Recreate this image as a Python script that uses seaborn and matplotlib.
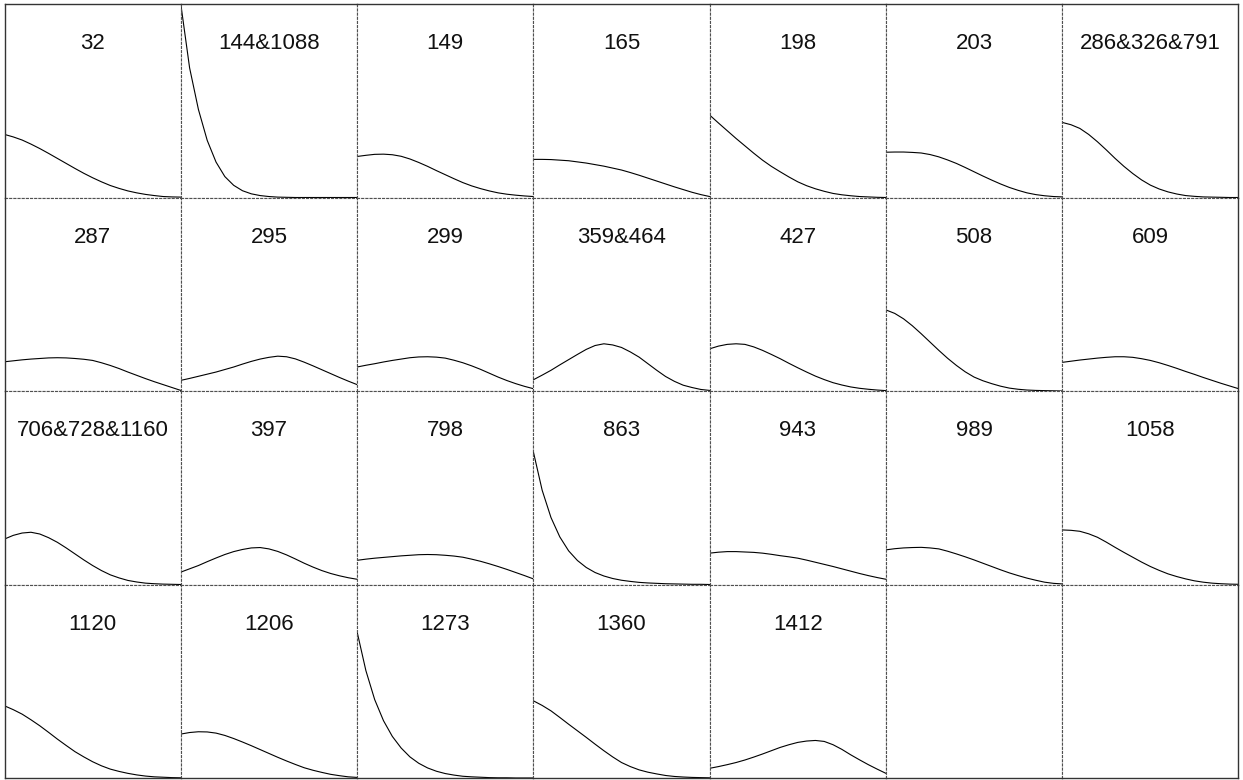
import matplotlib
matplotlib.use("Agg")
import matplotlib.pyplot as plt
import pandas as pd
import seaborn as sns

# Sample positions along each panel's horizontal axis (0 = left edge, 1 = right edge)
x_pos = [0.00, 0.05, 0.10, 0.15, 0.20, 0.25, 0.30, 0.35, 0.40, 0.45, 0.50,
         0.55, 0.60, 0.65, 0.70, 0.75, 0.80, 0.85, 0.90, 0.95, 1.00]

# Panel titles, in reading order
labels = ["32", "144&1088", "149", "165", "198", "203", "286&326&791",
          "287", "295", "299", "359&464", "427", "508", "609",
          "706&728&1160", "397", "798", "863", "943", "989", "1058",
          "1120", "1206", "1273", "1360", "1412"]

# Profile values for each panel (shared vertical scale 0..1)
y_32 = [0.326, 0.313, 0.297, 0.276, 0.253, 0.228, 0.202, 0.176, 0.150, 0.125, 0.102,
        0.081, 0.062, 0.047, 0.034, 0.024, 0.016, 0.010, 0.005, 0.003, 0.002]
y_144_1088 = [1.000, 0.670, 0.455, 0.295, 0.183, 0.108, 0.063, 0.035, 0.019, 0.010, 0.005,
              0.002, 0.001, 0.000, 0.000, 0.000, 0.000, 0.000, 0.000, 0.000, 0.000]
y_149 = [0.212, 0.218, 0.223, 0.224, 0.221, 0.213, 0.199, 0.181, 0.161, 0.139, 0.118,
         0.097, 0.077, 0.060, 0.046, 0.034, 0.024, 0.017, 0.012, 0.008, 0.005]
y_165 = [0.197, 0.197, 0.196, 0.193, 0.190, 0.184, 0.178, 0.170, 0.162, 0.152, 0.142,
         0.129, 0.115, 0.100, 0.085, 0.070, 0.055, 0.041, 0.027, 0.015, 0.005]
y_198 = [0.426, 0.385, 0.345, 0.305, 0.267, 0.229, 0.193, 0.161, 0.133, 0.106, 0.081,
         0.061, 0.045, 0.032, 0.021, 0.014, 0.009, 0.005, 0.003, 0.001, 0.000]
y_203 = [0.234, 0.235, 0.235, 0.233, 0.230, 0.222, 0.210, 0.194, 0.176, 0.155, 0.133,
         0.111, 0.090, 0.070, 0.052, 0.037, 0.024, 0.015, 0.009, 0.005, 0.003]
y_286_326_791 = [0.388, 0.376, 0.357, 0.326, 0.288, 0.246, 0.202, 0.161, 0.124, 0.091, 0.064,
                 0.044, 0.029, 0.018, 0.010, 0.006, 0.003, 0.002, 0.001, 0.000, 0.000]
y_287 = [0.151, 0.156, 0.161, 0.165, 0.168, 0.171, 0.172, 0.171, 0.168, 0.164, 0.158,
         0.146, 0.132, 0.116, 0.098, 0.081, 0.064, 0.048, 0.033, 0.018, 0.003]
y_295 = [0.055, 0.065, 0.076, 0.087, 0.098, 0.111, 0.124, 0.139, 0.153, 0.165, 0.174,
         0.180, 0.177, 0.166, 0.149, 0.130, 0.110, 0.090, 0.070, 0.051, 0.033]
y_299 = [0.124, 0.133, 0.141, 0.150, 0.158, 0.165, 0.172, 0.176, 0.177, 0.175, 0.170,
         0.159, 0.146, 0.130, 0.112, 0.092, 0.072, 0.054, 0.038, 0.024, 0.012]
y_359_464 = [0.058, 0.082, 0.107, 0.135, 0.162, 0.189, 0.215, 0.235, 0.244, 0.238, 0.225,
             0.202, 0.175, 0.141, 0.107, 0.075, 0.050, 0.030, 0.018, 0.008, 0.003]
y_427 = [0.218, 0.232, 0.241, 0.244, 0.241, 0.228, 0.210, 0.189, 0.167, 0.143, 0.120,
         0.098, 0.077, 0.059, 0.043, 0.031, 0.021, 0.014, 0.009, 0.005, 0.002]
y_508 = [0.419, 0.401, 0.373, 0.337, 0.296, 0.253, 0.210, 0.169, 0.132, 0.099, 0.072,
         0.053, 0.038, 0.025, 0.015, 0.009, 0.005, 0.003, 0.002, 0.001, 0.000]
y_609 = [0.148, 0.154, 0.160, 0.165, 0.170, 0.174, 0.177, 0.177, 0.174, 0.167, 0.158,
         0.146, 0.132, 0.117, 0.101, 0.086, 0.070, 0.055, 0.040, 0.026, 0.012]
y_706_728_1160 = [0.235, 0.254, 0.266, 0.270, 0.261, 0.242, 0.218, 0.189, 0.158, 0.127, 0.098,
                  0.072, 0.050, 0.034, 0.021, 0.013, 0.007, 0.004, 0.002, 0.001, 0.000]
y_397 = [0.064, 0.081, 0.098, 0.118, 0.137, 0.155, 0.170, 0.181, 0.189, 0.191, 0.184,
         0.171, 0.153, 0.132, 0.110, 0.090, 0.072, 0.057, 0.045, 0.035, 0.027]
y_798 = [0.125, 0.131, 0.136, 0.140, 0.144, 0.148, 0.151, 0.154, 0.155, 0.154, 0.151,
         0.147, 0.141, 0.131, 0.120, 0.107, 0.093, 0.078, 0.062, 0.046, 0.029]
y_863 = [0.686, 0.487, 0.346, 0.246, 0.174, 0.124, 0.088, 0.062, 0.044, 0.031, 0.022,
         0.016, 0.011, 0.008, 0.006, 0.004, 0.003, 0.002, 0.001, 0.001, 0.000]
y_943 = [0.162, 0.167, 0.170, 0.170, 0.168, 0.166, 0.162, 0.156, 0.149, 0.143, 0.136,
         0.126, 0.115, 0.104, 0.093, 0.081, 0.069, 0.057, 0.046, 0.036, 0.027]
y_989 = [0.179, 0.185, 0.189, 0.191, 0.192, 0.189, 0.184, 0.172, 0.158, 0.143, 0.127,
         0.110, 0.093, 0.076, 0.060, 0.046, 0.033, 0.022, 0.012, 0.006, 0.003]
y_1058 = [0.282, 0.280, 0.275, 0.262, 0.244, 0.219, 0.192, 0.166, 0.141, 0.116, 0.093,
          0.073, 0.055, 0.041, 0.029, 0.019, 0.012, 0.007, 0.004, 0.002, 0.001]
y_1120 = [0.373, 0.353, 0.330, 0.301, 0.270, 0.236, 0.201, 0.168, 0.136, 0.109, 0.084,
          0.063, 0.046, 0.034, 0.024, 0.016, 0.010, 0.006, 0.004, 0.002, 0.001]
y_1206 = [0.227, 0.235, 0.239, 0.238, 0.232, 0.220, 0.204, 0.186, 0.167, 0.147, 0.127,
          0.107, 0.088, 0.070, 0.053, 0.040, 0.029, 0.019, 0.012, 0.006, 0.003]
y_1273 = [0.756, 0.555, 0.405, 0.296, 0.215, 0.155, 0.109, 0.076, 0.052, 0.035, 0.023,
          0.015, 0.009, 0.006, 0.004, 0.002, 0.001, 0.001, 0.000, 0.000, 0.000]
y_1360 = [0.399, 0.375, 0.347, 0.313, 0.278, 0.244, 0.210, 0.175, 0.141, 0.109, 0.080,
          0.059, 0.042, 0.030, 0.021, 0.013, 0.008, 0.005, 0.003, 0.002, 0.001]
y_1412 = [0.050, 0.059, 0.069, 0.080, 0.093, 0.108, 0.124, 0.141, 0.158, 0.172, 0.184,
          0.191, 0.194, 0.189, 0.172, 0.148, 0.120, 0.094, 0.069, 0.046, 0.024]

profiles = [y_32, y_144_1088, y_149, y_165, y_198, y_203, y_286_326_791,
            y_287, y_295, y_299, y_359_464, y_427, y_508, y_609,
            y_706_728_1160, y_397, y_798, y_863, y_943, y_989, y_1058,
            y_1120, y_1206, y_1273, y_1360, y_1412]

# Long-form table: one row per sample point
records = []
for lab, ys in zip(labels, profiles):
    for xv, yv in zip(x_pos, ys):
        records.append({"panel": lab, "pos": xv, "value": yv})
df = pd.DataFrame(records)

sns.set_theme(style="white")
plt.rcParams["font.family"] = ["Liberation Sans", "DejaVu Sans"]
plt.rcParams["lines.scale_dashes"] = False

n_rows, n_cols = 4, 7
W, H = 1243, 780
fig, axes = plt.subplots(n_rows, n_cols, figsize=(W / 100, H / 100), dpi=100,
                         gridspec_kw={"wspace": 0, "hspace": 0})
fig.subplots_adjust(left=4.5 / W, right=1238.5 / W, bottom=2 / H, top=1 - 4 / H)

grid_color = "#505050"
for i in range(n_rows):
    for j in range(n_cols):
        ax = axes[i, j]
        k = i * n_cols + j
        if k < len(labels):
            sub = df[df["panel"] == labels[k]]
            sns.lineplot(data=sub, x="pos", y="value", ax=ax, color="black",
                         linewidth=0.8, estimator=None, sort=False)
            ax.text(0.5, 0.795, labels[k], transform=ax.transAxes,
                    ha="center", va="center", fontsize=16, color="#111111")
        ax.set_xlim(0, 1)
        ax.set_ylim(0, 1)
        ax.set_xticks([])
        ax.set_yticks([])
        ax.set_xlabel("")
        ax.set_ylabel("")
        ax.set_facecolor("white")
        for side, sp in ax.spines.items():
            sp.set_visible(True)
            outer = ((side == "top" and i == 0) or (side == "bottom" and i == n_rows - 1)
                     or (side == "left" and j == 0) or (side == "right" and j == n_cols - 1))
            if outer:
                sp.set_linestyle("-")
                sp.set_color("#333333")
                sp.set_linewidth(1.0)
                sp.set_zorder(5)
            else:
                sp.set_linestyle((0, (1.5, 1.5)))
                sp.set_color(grid_color)
                sp.set_linewidth(0.8)

fig.savefig("out.png", dpi=100, facecolor="white")
